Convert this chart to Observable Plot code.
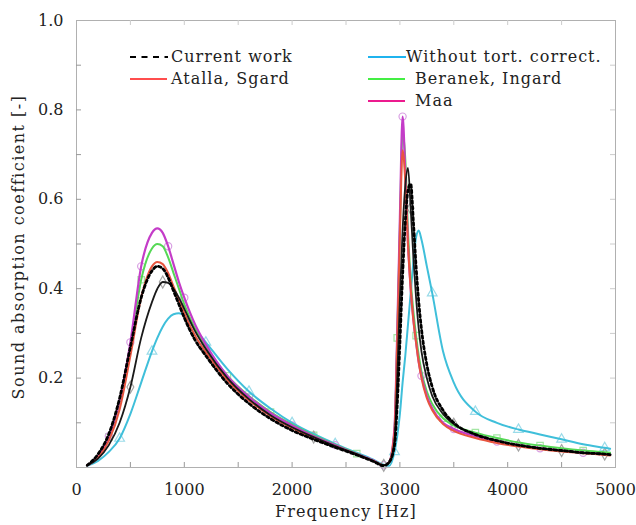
<!DOCTYPE html>
<html><head><meta charset="utf-8">
<script src="https://cdn.jsdelivr.net/npm/d3@7"></script>
<script src="https://cdn.jsdelivr.net/npm/@observablehq/plot@0.6"></script>
<style>
body{margin:0;background:#fff}
#wrap{position:relative;width:636px;height:525px;font-family:"DejaVu Serif",serif;color:#222}
#wrap svg{position:absolute;left:0;top:0}
.leg{position:absolute;height:20px;line-height:20px;font-size:16px;letter-spacing:1px;white-space:nowrap}
.leg svg{position:static !important;vertical-align:middle}
</style></head>
<body><div id="wrap"></div>
<script>
const freq = [100,200,300,400,500,600,700,750,800,850,900,950,1000,1100,1200,1400,1600,1800,2000,2200,2400,2600,2750,2850,2900,2950,2975,3000,3025,3050,3075,3100,3125,3150,3175,3200,3250,3300,3400,3500,3700,3900,4100,4300,4500,4700,4900,4950];
const currentWork = [0.005,0.03,0.075,0.155,0.27,0.38,0.44,0.45,0.445,0.425,0.395,0.365,0.335,0.285,0.25,0.188,0.143,0.109,0.083,0.063,0.045,0.028,0.014,0.004,0.012,0.05,0.14,0.28,0.43,0.55,0.62,0.635,0.55,0.45,0.37,0.31,0.23,0.18,0.128,0.10,0.074,0.06,0.05,0.043,0.038,0.033,0.03,0.029];
const measured = [0.005,0.02,0.05,0.10,0.18,0.29,0.37,0.40,0.415,0.413,0.40,0.38,0.355,0.305,0.265,0.2,0.153,0.117,0.09,0.068,0.048,0.03,0.015,0.005,0.01,0.06,0.2,0.38,0.53,0.63,0.67,0.58,0.47,0.38,0.31,0.26,0.2,0.16,0.12,0.097,0.074,0.06,0.05,0.043,0.038,0.033,0.03,0.029];
const atallaSgard = [0.005,0.022,0.06,0.13,0.25,0.38,0.45,0.46,0.455,0.435,0.405,0.375,0.345,0.295,0.258,0.195,0.15,0.115,0.088,0.066,0.047,0.029,0.015,0.005,0.012,0.08,0.28,0.52,0.71,0.64,0.50,0.40,0.33,0.28,0.235,0.2,0.155,0.128,0.097,0.082,0.066,0.055,0.047,0.041,0.036,0.032,0.028,0.027];
const withoutTort = [0.004,0.015,0.035,0.065,0.12,0.19,0.26,0.29,0.315,0.333,0.343,0.345,0.34,0.31,0.28,0.22,0.17,0.132,0.10,0.075,0.053,0.033,0.018,0.006,0.004,0.035,0.07,0.12,0.19,0.25,0.32,0.39,0.46,0.515,0.53,0.51,0.45,0.39,0.26,0.19,0.125,0.10,0.085,0.074,0.063,0.052,0.044,0.042];
const beranekIngard = [0.005,0.025,0.068,0.145,0.27,0.42,0.49,0.50,0.495,0.47,0.435,0.40,0.365,0.31,0.27,0.205,0.16,0.124,0.096,0.072,0.051,0.031,0.016,0.005,0.012,0.085,0.29,0.54,0.75,0.69,0.53,0.42,0.35,0.295,0.25,0.215,0.17,0.142,0.11,0.094,0.078,0.066,0.056,0.049,0.043,0.038,0.034,0.033];
const maa = [0.005,0.025,0.07,0.15,0.28,0.45,0.525,0.535,0.525,0.495,0.455,0.415,0.38,0.32,0.275,0.205,0.158,0.122,0.094,0.07,0.05,0.03,0.016,0.005,0.012,0.09,0.30,0.56,0.785,0.66,0.50,0.40,0.33,0.28,0.235,0.205,0.16,0.132,0.10,0.086,0.07,0.058,0.05,0.043,0.038,0.033,0.029,0.028];

const xLabelTicks = [0,1000,2000,3000,4000,5000];
const xMinorTicks = [500,1000,1500,2000,2500,3000,3500,4000,4500];
const yLabelTicks = [0.2,0.4,0.6,0.8,1.0];
const yMinorTicks = [0.1,0.2,0.3,0.4,0.5,0.6,0.7,0.8,0.9];

const series = [
  {key:"withoutTort", values:withoutTort, color:"#3fbfda", width:2, dash:null, symbol:"triangle", mark:"#9adbe9", marks:[400,700,1200,1600,2000,2400,2950,3300,3700,4100,4500,4900]},
  {key:"beranek", values:beranekIngard, color:"#55d855", width:2, dash:null, symbol:"square", mark:"#a4e6a4", marks:[300,600,1400,1800,2200,2600,2975,3150,3400,3700,3900,4300,4700]},
  {key:"maa", values:maa, color:"#c43cc8", width:2.2, dash:null, symbol:"circle", mark:"#d9a0e3", marks:[300,500,600,850,1000,1600,2000,2400,2850,3025,3200,3500,3900,4300,4700]},
  {key:"atalla", values:atallaSgard, color:"#e8553f", width:2, dash:null, symbol:null},
  {key:"measured", values:measured, color:"#1a1a1a", width:1.8, dash:null, symbol:"diamond", mark:"#a5a5a5", marks:[500,800,1200,2200,2850,3100,3500,4100,4500,4900]},
  {key:"current", values:currentWork, color:"#000", width:2.8, dash:"2.6,2.8", symbol:null}
];

const rows = [];
for (const s of series) freq.forEach((f,i) => rows.push({f, a:s.values[i], key:s.key}));

const marks = [
  Plot.frame({stroke:"#b0b0b0"}),
  Plot.ruleX(xMinorTicks, {insetTop:442, stroke:"#999"}),
  Plot.ruleX(xMinorTicks, {insetBottom:442, stroke:"#ccc"}),
  Plot.ruleY(yMinorTicks, {insetRight:534, stroke:"#999"}),
  Plot.ruleY(yMinorTicks, {insetLeft:534, stroke:"#ccc"}),
  Plot.axisX(xLabelTicks, {tickSize:0, tickPadding:16, fontSize:16, fill:"#222", label:null, tickFormat:d=>String(d)}),
  Plot.axisY(yLabelTicks, {tickSize:0, tickPadding:13, fontSize:16, fill:"#222", label:null, tickFormat:d3.format(".1f")}),
  Plot.text(["Frequency [Hz]"], {frameAnchor:"bottom", textAnchor:"middle", dy:49, fontSize:16, fill:"#222"}),
  Plot.text(["Sound absorption coefficient [-]"], {frameAnchor:"left", textAnchor:"middle", rotate:-90, dx:-58, dy:3, fontSize:16, fill:"#222"})
];
for (const s of series) {
  if (s.symbol) {
    const pts = freq.map((f,i)=>({f, a:s.values[i]})).filter(d => s.marks.includes(d.f));
    marks.push(Plot.dot(pts, {x:"f", y:"a", symbol:s.symbol, r:3.6, stroke:s.mark, strokeWidth:1.2, fill:"none"}));
  }
}
for (const s of series) {
  marks.push(Plot.line(rows.filter(d=>d.key===s.key), {x:"f", y:"a", stroke:s.color, strokeWidth:s.width, strokeDasharray:s.dash, curve:"monotone-x"}));
}

const chart = Plot.plot({
  width:636, height:525, marginLeft:76, marginRight:21, marginTop:20, marginBottom:58,
  style:{fontFamily:"DejaVu Serif, serif", background:"#fff"},
  x:{domain:[0,5000]},
  y:{domain:[0,1]},
  marks
});
d3.select(chart).selectAll("text").filter(function(){
  return this.textContent.startsWith("Frequency");
}).attr("letter-spacing", "1.1px");
d3.select(chart).selectAll("text").filter(function(){
  return this.textContent.startsWith("Sound");
}).attr("letter-spacing", "1.5px");
const wrap = document.getElementById("wrap");
wrap.appendChild(chart);

const legend = [
  {label:"Current work", color:"#000", dash:"6,5.5", x1:130, x2:168, y:57, tx:171, w:2},
  {label:"Atalla, Sgard", color:"#ff4d4d", dash:null, x1:130, x2:167, y:79, tx:171, w:2},
  {label:"Without tort. correct.", color:"#1fb3ee", dash:null, x1:368, x2:406, y:57, tx:406, w:2},
  {label:"Beranek, Ingard", color:"#44ee44", dash:null, x1:368, x2:405, y:79, tx:415, w:2},
  {label:"Maa", color:"#ec1a8e", dash:null, x1:368, x2:405, y:101, tx:415, w:2}
];
for (const l of legend) {
  const ln = document.createElement("div");
  ln.className = "leg";
  ln.style.left = l.x1 + "px"; ln.style.top = (l.y - 10) + "px";
  ln.innerHTML = `<svg width="${l.x2-l.x1}" height="20"><line x1="0" x2="${l.x2-l.x1}" y1="10" y2="10" stroke="${l.color}" stroke-width="${l.w}" ${l.dash?`stroke-dasharray="${l.dash}"`:""}/></svg>`;
  ln.style.lineHeight = "0";
  wrap.appendChild(ln);
  const t = document.createElement("div");
  t.className = "leg";
  t.style.left = l.tx + "px"; t.style.top = (l.y - 10) + "px";
  t.textContent = l.label;
  wrap.appendChild(t);
}
</script></body></html>
